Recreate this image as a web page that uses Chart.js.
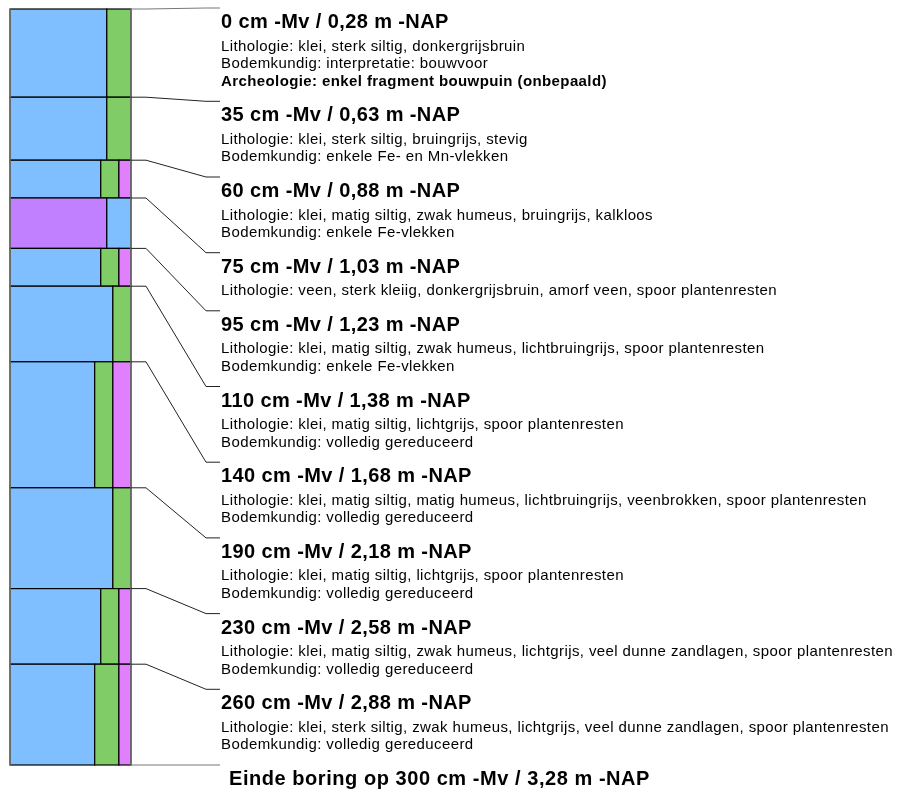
<!DOCTYPE html>
<html>
<head>
<meta charset="utf-8">
<script src="https://cdn.jsdelivr.net/npm/chart.js@4.4.0/dist/chart.umd.min.js"></script>
<style>
  html, body { margin: 0; padding: 0; background: #fff; }
  #wrap { width: 898px; height: 789px; }
</style>
</head>
<body>
<div id="wrap"><canvas id="boring" width="898" height="789"></canvas></div>
<script>
// layer boundaries in cm below surface, and depth in m below NAP
var depths = [0, 35, 60, 75, 95, 110, 140, 190, 230, 260, 300];
var nap = [0.28, 0.63, 0.88, 1.03, 1.23, 1.38, 1.68, 2.18, 2.58, 2.88, 3.28];

// composition of each layer in % of column width (left to right)
var veen  = [0, 0, 0, 80, 0, 0, 0, 0, 0, 0];
var klei  = [80, 80, 75, 20, 75, 85, 70, 85, 75, 70];
var silt  = [20, 20, 15, 0, 15, 15, 15, 15, 15, 20];
var humus = [0, 0, 10, 0, 10, 0, 15, 0, 10, 10];

var lithologie = [
  'klei, sterk siltig, donkergrijsbruin',
  'klei, sterk siltig, bruingrijs, stevig',
  'klei, matig siltig, zwak humeus, bruingrijs, kalkloos',
  'veen, sterk kleiig, donkergrijsbruin, amorf veen, spoor plantenresten',
  'klei, matig siltig, zwak humeus, lichtbruingrijs, spoor plantenresten',
  'klei, matig siltig, lichtgrijs, spoor plantenresten',
  'klei, matig siltig, matig humeus, lichtbruingrijs, veenbrokken, spoor plantenresten',
  'klei, matig siltig, lichtgrijs, spoor plantenresten',
  'klei, matig siltig, zwak humeus, lichtgrijs, veel dunne zandlagen, spoor plantenresten',
  'klei, sterk siltig, zwak humeus, lichtgrijs, veel dunne zandlagen, spoor plantenresten'
];
var bodemkundig = [
  'interpretatie: bouwvoor',
  'enkele Fe- en Mn-vlekken',
  'enkele Fe-vlekken',
  '',
  'enkele Fe-vlekken',
  'volledig gereduceerd',
  'volledig gereduceerd',
  'volledig gereduceerd',
  'volledig gereduceerd',
  'volledig gereduceerd'
];
var archeologie = ['enkel fragment bouwpuin (onbepaald)', '', '', '', '', '', '', '', '', ''];

var materials = [
  { values: veen,  color: '#c080ff' },
  { values: klei,  color: '#80bfff' },
  { values: silt,  color: '#80cc66' },
  { values: humus, color: '#e080ff' }
];

function fmt(v) {
  return v.toFixed(2).replace('.', ',');
}

var FONT = "'Liberation Sans', Arial, sans-serif";

function setFont(ctx, font, spacing) {
  ctx.font = font;
  if ('letterSpacing' in ctx) ctx.letterSpacing = spacing + 'px';
}

var columnPlugin = {
  id: 'column',
  afterDatasetsDraw: function(chart) {
    var ctx = chart.ctx;
    var x = chart.scales.x;
    var y = chart.scales.y;
    var left = x.getPixelForValue(0);
    var right = x.getPixelForValue(100);
    ctx.save();

    // layer segments
    for (var i = 0; i < depths.length - 1; i++) {
      var top = y.getPixelForValue(depths[i]);
      var bottom = y.getPixelForValue(depths[i + 1]);
      var acc = 0;
      materials.forEach(function(m) {
        var v = m.values[i];
        if (!v) return;
        var x0 = x.getPixelForValue(acc);
        var x1 = x.getPixelForValue(acc + v);
        ctx.fillStyle = m.color;
        ctx.fillRect(x0, top, x1 - x0, bottom - top);
        ctx.strokeStyle = '#000';
        ctx.lineWidth = 1.2;
        ctx.strokeRect(x0, top, x1 - x0, bottom - top);
        acc += v;
      });
    }

    // outer frame
    var yTop = y.getPixelForValue(0);
    var yBot = y.getPixelForValue(300);
    ctx.strokeStyle = '#777';
    ctx.lineWidth = 1.5;
    ctx.beginPath();
    ctx.moveTo(left, yTop); ctx.lineTo(left, yBot);
    ctx.moveTo(right, yTop); ctx.lineTo(right, yBot);
    ctx.stroke();

    // labels with leader lines
    var textX = right + 90;
    var target = yTop - 1;
    for (var j = 0; j < depths.length; j++) {
      var yb = y.getPixelForValue(depths[j]);
      ctx.strokeStyle = (j === 0 || j === depths.length - 1) ? '#777' : '#222';
      ctx.lineWidth = 1;
      ctx.beginPath();
      ctx.moveTo(right, yb);
      ctx.lineTo(right + 15, yb);
      ctx.lineTo(right + 75, target);
      ctx.lineTo(right + 89, target);
      ctx.stroke();

      ctx.fillStyle = '#000';
      ctx.textAlign = 'left';
      ctx.textBaseline = 'alphabetic';
      if (j === depths.length - 1) {
        setFont(ctx, 'bold 20px ' + FONT, 0.55);
        ctx.fillText('Einde boring op ' + depths[j] + ' cm -Mv / ' + fmt(nap[j]) + ' m -NAP', textX + 8, target + 20);
        break;
      }
      setFont(ctx, 'bold 20px ' + FONT, 0.4);
      ctx.fillText(depths[j] + ' cm -Mv / ' + fmt(nap[j]) + ' m -NAP', textX, target + 20);

      var lines = [{ t: 'Lithologie: ' + lithologie[j], b: false }];
      if (bodemkundig[j]) lines.push({ t: 'Bodemkundig: ' + bodemkundig[j], b: false });
      if (archeologie[j]) lines.push({ t: 'Archeologie: ' + archeologie[j], b: true });
      lines.forEach(function(l, k) {
        setFont(ctx, (l.b ? 'bold ' : '') + '15px ' + FONT, 0.4);
        ctx.fillText(l.t, textX, target + 42.5 + k * 17.5);
      });
      target += 40.5 + 17.6 * lines.length;
    }
    ctx.restore();
  }
};

var chart = new Chart(document.getElementById('boring').getContext('2d'), {
  type: 'scatter',
  data: { datasets: [{ data: [], pointRadius: 0 }] },
  options: {
    responsive: false,
    animation: false,
    layout: { padding: { left: 10, top: 9, right: 767, bottom: 24 } },
    plugins: { legend: { display: false }, tooltip: { enabled: false } },
    scales: {
      x: { type: 'linear', min: 0, max: 100, display: false },
      y: { type: 'linear', min: 0, max: 300, reverse: true, display: false }
    }
  },
  plugins: [columnPlugin]
});
</script>
</body>
</html>
